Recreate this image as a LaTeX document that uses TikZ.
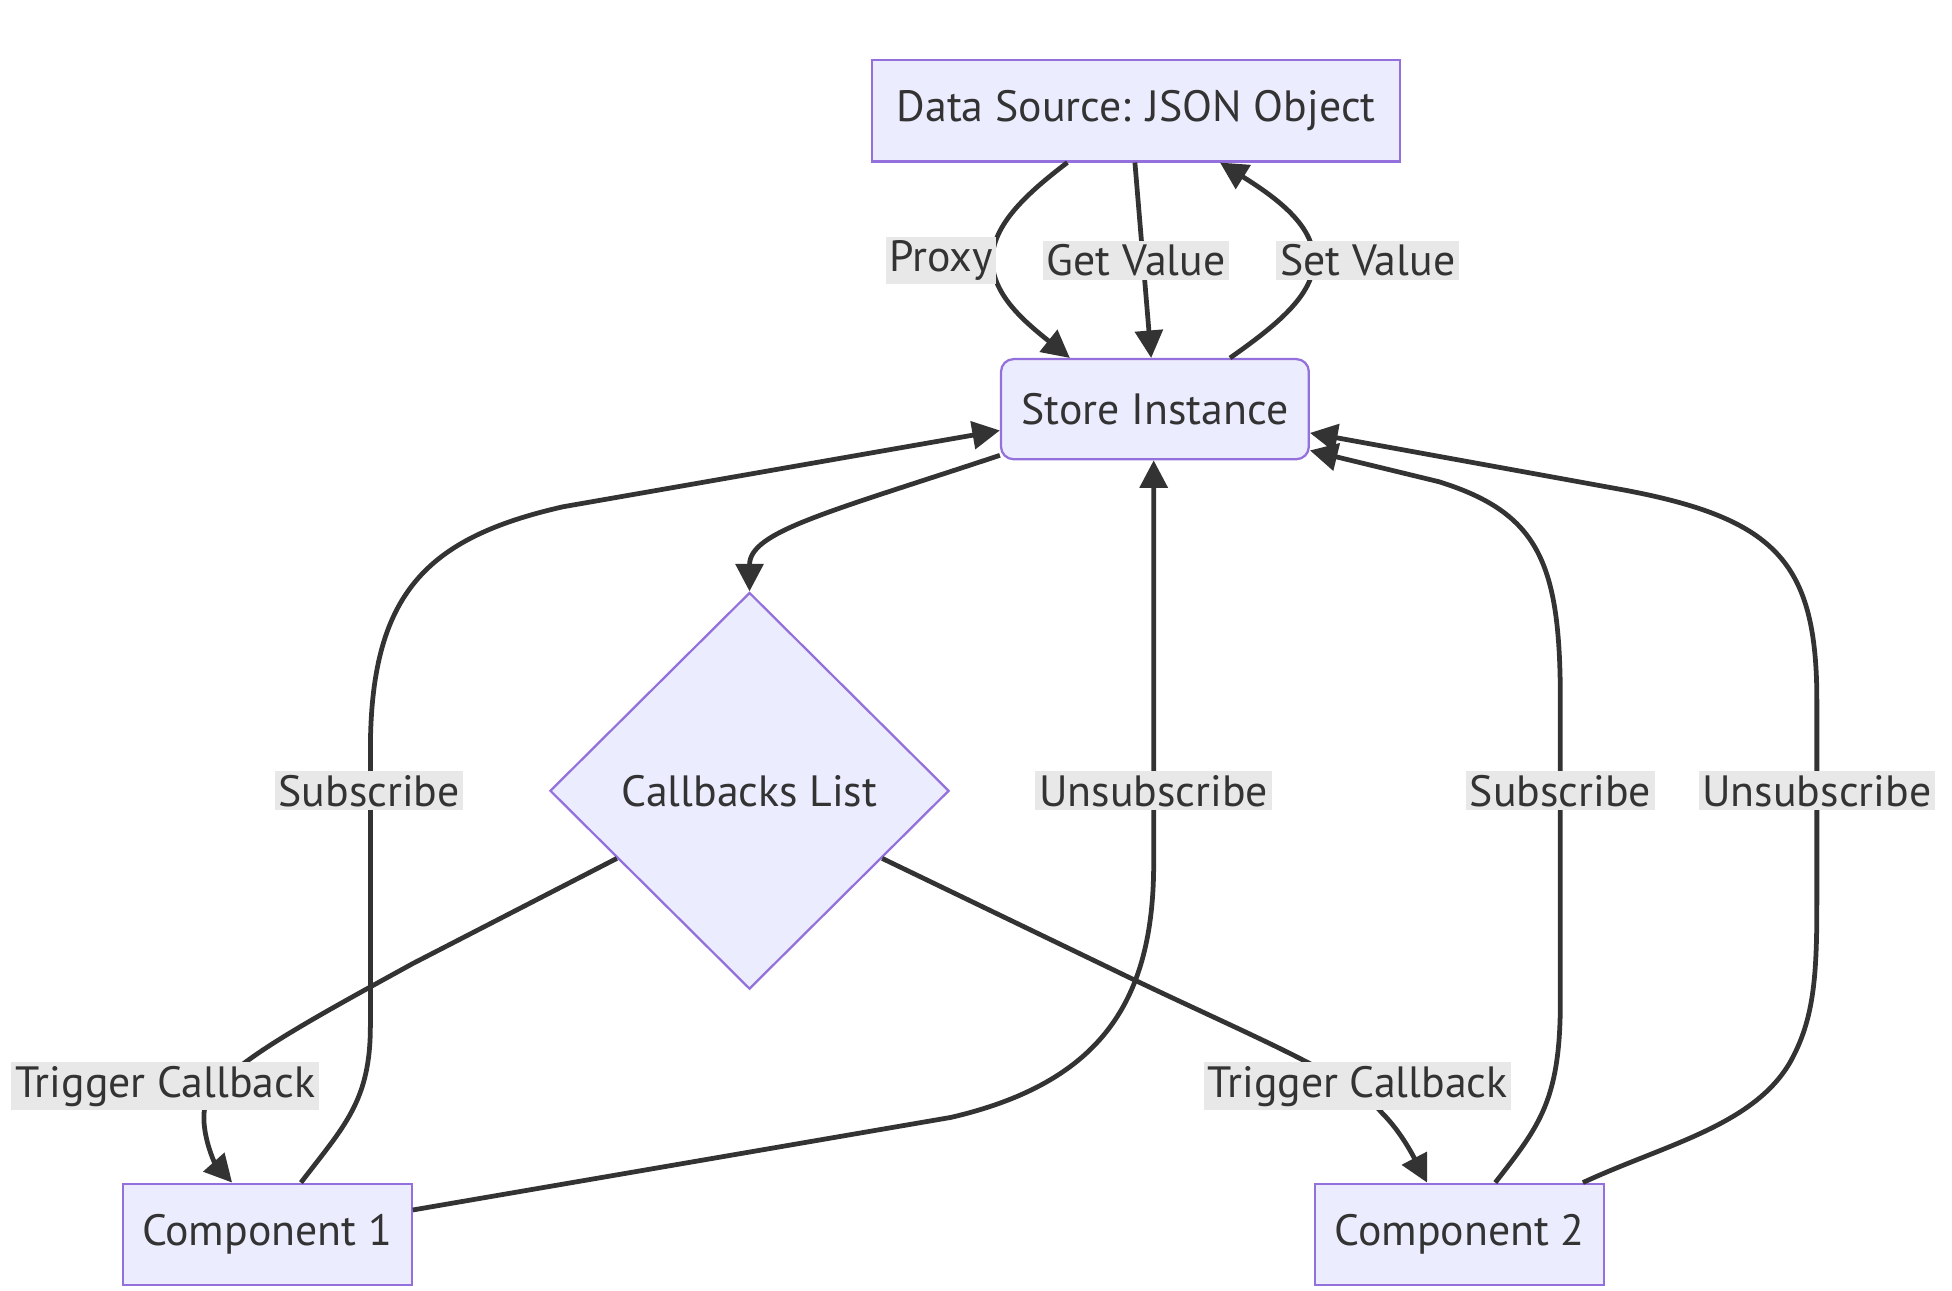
\documentclass[tikz,border=0pt]{standalone}
\usepackage{fontspec}
\setmainfont{PT Sans}
\usetikzlibrary{shapes.geometric,arrows.meta}
\definecolor{boxfill}{HTML}{ECECFF}
\definecolor{boxline}{HTML}{9370DB}
\definecolor{flowline}{HTML}{333333}
\definecolor{tagfill}{HTML}{E8E8E8}
\tikzset{
  box/.style={draw=boxline,fill=boxfill,line width=0.9pt,text=flowline,inner sep=0pt,
    minimum width=115.5pt,minimum height=40.5pt,font=\fontsize{17.5}{20}\selectfont},
  rbox/.style={box,rounded corners=5pt},
  choice/.style={box,shape=diamond,aspect=1,minimum width=159.5pt,minimum height=158.5pt},
  flow/.style={draw=flowline,line width=1.9pt,-{Triangle[length=11pt,width=11pt]}},
  tag/.style={fill=tagfill,text=flowline,inner sep=1.5pt,font=\fontsize{17.5}{20}\selectfont}
}
\begin{document}
\begin{tikzpicture}[x=0.5pt,y=0.5pt,yscale=-1,xscale=1]
\useasboundingbox (0,0) rectangle (1560,1031);

%Shape: Rectangle [id:ds]
\node [box,minimum width=211pt] (ds) at (908,88.5) {Data Source: JSON Object};
%Shape: Rounded Rect [id:st]
\node [rbox,minimum width=123pt,minimum height=40pt] (st) at (923,327) {Store Instance};
%Shape: Diamond [id:cb]
\node [choice] (cb) at (599,632) {Callbacks List};
%Shape: Rectangle [id:c1]
\node [box] (c1) at (213.5,986.5) {Component 1};
%Shape: Rectangle [id:c2]
\node [box] (c2) at (1166.5,986.5) {Component 2};

%Curve Lines [id:proxy]
\draw [flow] ([xshift=-27.5pt]ds.south) .. controls (820,155) and (793,180) .. (793,208) .. controls (793,236) and (820,258) .. ([xshift=-34pt]st.north);
%Straight Lines [id:getval]
\draw [flow] ([xshift=-0.5pt]ds.south) -- ([xshift=-1.5pt]st.north);
%Curve Lines [id:setval]
\draw [flow] ([xshift=30pt]st.north) .. controls (1020,260) and (1050,236) .. (1050,208) .. controls (1050,180) and (1020,158) .. ([xshift=33.5pt]ds.south);
%Curve Lines [id:tolist]
\draw [flow] ([yshift=-2pt]st.south west) .. controls (660,410) and (599,425) .. (cb.north);
%Curve Lines [id:trig1]
\draw [flow] (cb.207) -- (330,770) .. controls (230,825) and (165,860) .. (163,890) .. controls (162,910) and (172,930) .. ([xshift=-14pt]c1.north);
%Curve Lines [id:trig2]
\draw [flow] (cb.-27) -- (900,780) .. controls (1000,828) and (1080,860) .. (1105,890) .. controls (1120,905) and (1130,925) .. ([xshift=-13pt]c2.north);
%Curve Lines [id:sub1]
\draw [flow] ([xshift=13.5pt]c1.north) .. controls (275,900) and (296,880) .. (296,820) -- (296,600) .. controls (296,475) and (340,430) .. (450,405) -- ([yshift=8.5pt]st.west);
%Curve Lines [id:unsub1]
\draw [flow] ([yshift=-9.75pt]c1.east) -- (760,893) .. controls (880,865) and (922,800) .. (922,690) -- ([xshift=-0.5pt]st.south);
%Curve Lines [id:sub2]
\draw [flow] ([xshift=14.25pt]c2.north) .. controls (1230,900) and (1247,880) .. (1247,800) -- (1247,560) .. controls (1247,450) and (1230,410) .. (1150,385) -- ([yshift=16.5pt]st.east);
%Curve Lines [id:unsub2]
\draw [flow] ([xshift=49.25pt]c2.north) .. controls (1330,915) and (1400,900) .. (1430,850) .. controls (1450,815) and (1452,780) .. (1452,720) -- (1452,560) .. controls (1452,450) and (1420,415) .. (1300,392) -- ([yshift=9.5pt]st.east);

% Text Node
\node [tag] (tproxy) at (752,208) {Proxy};
% Text Node
\node [tag] (tget) at (908,208) {Get Value};
% Text Node
\node [tag] (tset) at (1093,208) {Set Value};
% Text Node
\node [tag] (tsub1) at (295,632) {Subscribe};
% Text Node
\node [tag] (tunsub1) at (922,632) {Unsubscribe};
% Text Node
\node [tag] (tsub2) at (1247,632) {Subscribe};
% Text Node
\node [tag] (tunsub2) at (1452,632) {Unsubscribe};
% Text Node
\node [tag] (ttrig1) at (132,868) {Trigger Callback};
% Text Node
\node [tag] (ttrig2) at (1085,868) {Trigger Callback};

\end{tikzpicture}
\end{document}
